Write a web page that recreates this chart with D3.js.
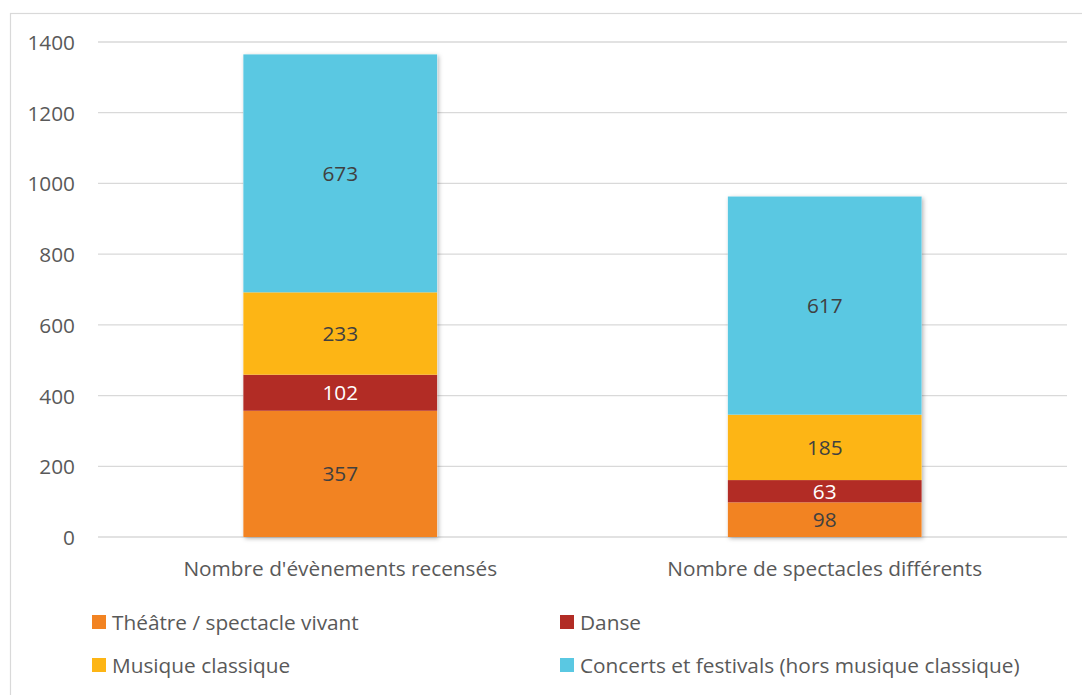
<!DOCTYPE html>
<html>
<head>
<meta charset="utf-8">
<script src="https://cdn.jsdelivr.net/npm/d3@7"></script>
<style>
  html, body { margin: 0; padding: 0; background: #fff; }
  svg text { font-family: "Open Sans", Lato, sans-serif; fill: #595959; }
</style>
</head>
<body>
<svg id="chart" width="1082" height="695"></svg>
<script>
const categories = ["Nombre d'évènements recensés", "Nombre de spectacles différents"];
const seriesNames = ["Théâtre / spectacle vivant", "Danse", "Musique classique", "Concerts et festivals (hors musique classique)"];
const seriesColors = ["#f28322", "#b22c25", "#fdb515", "#5ac8e2"];
const labelColors = ["#404040", "#ffffff", "#404040", "#404040"];
const theatre = [357, 98];
const danse = [102, 63];
const musique = [233, 185];
const concerts = [673, 617];
const yTicks = [0, 200, 400, 600, 800, 1000, 1200, 1400];

const svg = d3.select("#chart");
const fs = "20.8px";

// outer frame
svg.append("rect").attr("x", 10.5).attr("y", 13.5).attr("width", 1090).attr("height", 700)
  .attr("fill", "none").attr("stroke", "#d9d9d9").attr("stroke-width", 1.2);

const defs = svg.append("defs");
const f = defs.append("filter").attr("id", "shadow").attr("x", "-10%").attr("y", "-10%").attr("width", "130%").attr("height", "130%");
f.append("feDropShadow").attr("dx", 1.5).attr("dy", 1.5).attr("stdDeviation", 2).attr("flood-color", "#000").attr("flood-opacity", 0.3);

const x = d3.scaleBand().domain(categories).range([98, 1067]).paddingInner(0.6).paddingOuter(0.3);
const y = d3.scaleLinear().domain([0, 1400]).range([537, 42]);

// gridlines
svg.append("g").selectAll("line").data(yTicks).join("line")
  .attr("x1", 98).attr("x2", 1067)
  .attr("y1", d => y(d)).attr("y2", d => y(d))
  .attr("stroke", "#d9d9d9").attr("stroke-width", 1.3);

// y axis labels
const yAxis = d3.axisLeft(y).tickValues(yTicks).tickSize(0).tickPadding(0).tickFormat(d3.format("d"));
const ya = svg.append("g").attr("transform", "translate(75,0)").call(yAxis);
ya.select(".domain").remove();
ya.selectAll("text").style("font-size", fs).attr("dy", "0.36em").style("font-family", null);

// stacked data
const rows = categories.map((c, i) => ({ cat: c, s0: theatre[i], s1: danse[i], s2: musique[i], s3: concerts[i] }));
const stack = d3.stack().keys(["s0", "s1", "s2", "s3"]);
const layers = stack(rows);

const bw = x.bandwidth();
// drop shadow under each column
svg.append("g").selectAll("rect").data(rows).join("rect")
  .attr("x", d => x(d.cat)).attr("width", bw)
  .attr("y", d => y(d.s0 + d.s1 + d.s2 + d.s3))
  .attr("height", d => y(0) - y(d.s0 + d.s1 + d.s2 + d.s3))
  .attr("fill", "#fff").attr("filter", "url(#shadow)");

layers.forEach((layer, k) => {
  const g = svg.append("g");
  g.selectAll("rect").data(layer).join("rect")
    .attr("x", d => x(d.data.cat)).attr("width", bw)
    .attr("y", d => y(d[1])).attr("height", d => y(d[0]) - y(d[1]))
    .attr("fill", seriesColors[k]);
  g.selectAll("text").data(layer).join("text")
    .attr("x", d => x(d.data.cat) + bw / 2)
    .attr("y", d => (y(d[0]) + y(d[1])) / 2)
    .attr("dy", "0.36em")
    .attr("text-anchor", "middle")
    .style("font-size", fs)
    .style("fill", labelColors[k])
    .text(d => d[1] - d[0]);
});

// category labels
svg.append("g").selectAll("text").data(categories).join("text")
  .attr("x", d => x(d) + bw / 2).attr("y", 569).attr("dy", "0.36em")
  .attr("text-anchor", "middle").style("font-size", fs)
  .text(d => d);

// legend
const legendPos = [[92, 622], [560, 622], [92, 665], [560, 665]];
const lg = svg.append("g").selectAll("g").data(seriesNames).join("g")
  .attr("transform", (d, i) => `translate(${legendPos[i][0]},${legendPos[i][1]})`);
lg.append("rect").attr("x", 0).attr("y", -7).attr("width", 14).attr("height", 14)
  .attr("fill", (d, i) => seriesColors[i]);
lg.append("text").attr("x", 20).attr("y", 0).attr("dy", "0.36em")
  .style("font-size", fs).text(d => d);
</script>
</body>
</html>
